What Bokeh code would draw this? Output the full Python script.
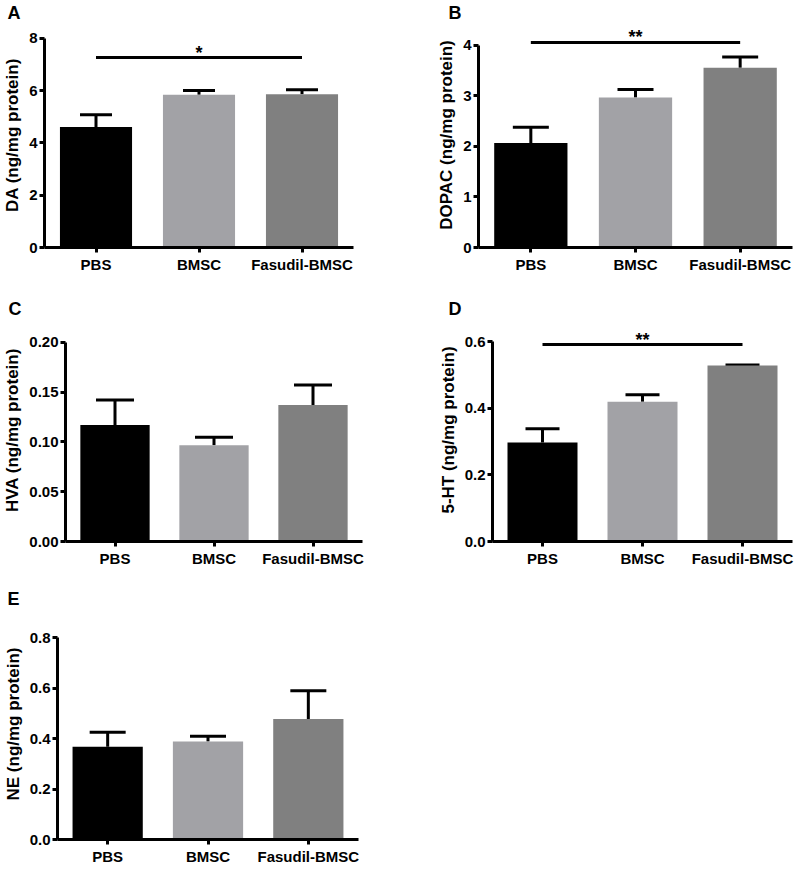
from bokeh.plotting import figure
from bokeh.models import (FactorRange, Range1d, Whisker, TeeHead, ColumnDataSource,
                          FixedTicker, NumeralTickFormatter)
from bokeh.core.properties import value
from bokeh.layouts import column, row
from bokeh.embed import file_html
from bokeh.resources import INLINE

# ---------------- data ----------------
categories = ["PBS", "BMSC", "Fasudil-BMSC"]
bar_colors = ["#000000", "#a2a2a6", "#808080"]

da_mean = [4.61, 5.85, 5.87]
da_sem = [0.47, 0.16, 0.17]
dopac_mean = [2.07, 2.97, 3.56]
dopac_sem = [0.31, 0.16, 0.21]
hva_mean = [0.117, 0.0965, 0.137]
hva_sem = [0.025, 0.008, 0.020]
ht_mean = [0.298, 0.420, 0.529]
ht_sem = [0.041, 0.021, 0.002]
ne_mean = [0.368, 0.388, 0.478]
ne_sem = [0.057, 0.021, 0.112]

da_ticks = [0, 2, 4, 6, 8]
dopac_ticks = [0, 1, 2, 3, 4]
hva_ticks = [0.0, 0.05, 0.10, 0.15, 0.20]
ht_ticks = [0.0, 0.2, 0.4, 0.6]
ne_ticks = [0.0, 0.2, 0.4, 0.6, 0.8]

# significance brackets: (height, label)
da_sig = (7.27, "*")
dopac_sig = (4.06, "**")
ht_sig = (0.592, "**")

FONT = "Liberation Sans"


def make_panel(letter, ylabel, means, sems, ticks, fmt, y_end, sig,
               width, height, mb_left, mb_right, mb_top, mb_bottom,
               title_offset, cap):
    p = figure(x_range=FactorRange(factors=categories, range_padding=0),
               y_range=Range1d(0, y_end),
               width=width, height=height, output_backend="svg",
               toolbar_location=None, tools="",
               min_border_left=mb_left, min_border_right=mb_right,
               min_border_top=mb_top, min_border_bottom=mb_bottom)
    src = ColumnDataSource(dict(cat=categories, mean=means,
                                top=[m + s for m, s in zip(means, sems)],
                                color=bar_colors))
    p.vbar(x="cat", top="mean", bottom=0, width=0.70, source=src,
           fill_color="color", line_color=None)
    w = Whisker(source=src, base="cat", lower="mean", upper="top",
                dimension="height", line_width=3, line_color="black",
                upper_head=TeeHead(size=cap, line_width=3, line_color="black"),
                lower_head=None)
    p.add_layout(w)
    if sig is not None:
        p.segment(x0=[categories[0]], x1=[categories[2]], y0=[sig[0]], y1=[sig[0]],
                  line_width=3, line_color="black")
        p.text(x=[categories[1]], y=[sig[0]], text=[sig[1]], text_align="center",
               text_baseline="alphabetic", y_offset=-5, text_font_size="18px",
               text_font=value(FONT), text_font_style="bold", text_color="black")

    p.title.text = letter
    p.title.align = "left"
    p.title.offset = title_offset
    p.title.standoff = 0
    p.title.text_font = FONT
    p.title.text_font_size = "18px"
    p.title.text_font_style = "bold"
    p.title.text_color = "black"

    p.xgrid.visible = False
    p.ygrid.visible = False
    p.outline_line_color = None
    p.background_fill_color = "white"
    p.border_fill_color = "white"

    for ax in (p.xaxis[0], p.yaxis[0]):
        ax.axis_line_width = 3
        ax.axis_line_color = "black"
        ax.major_tick_line_width = 3
        ax.major_tick_line_color = "black"
        ax.major_tick_out = 5
        ax.major_tick_in = 0
        ax.minor_tick_out = 0
        ax.minor_tick_in = 0
        ax.major_label_text_font = FONT
        ax.major_label_text_font_style = "bold"
        ax.major_label_text_font_size = "15px"
        ax.major_label_text_color = "black"
        ax.major_label_standoff = 2
    p.xaxis.major_label_standoff = 3
    p.yaxis.ticker = FixedTicker(ticks=ticks)
    p.yaxis.formatter = NumeralTickFormatter(format=fmt)
    p.yaxis.bounds = (ticks[0], ticks[-1])
    p.yaxis.axis_label = ylabel
    p.yaxis.axis_label_text_font = FONT
    p.yaxis.axis_label_text_font_style = "bold"
    p.yaxis.axis_label_text_font_size = "17px"
    p.yaxis.axis_label_text_color = "black"
    p.yaxis.axis_label_standoff = 4
    return p


pA = make_panel("A", "DA (ng/mg protein)", da_mean, da_sem, da_ticks, "0", 8.612, da_sig,
                400, 290, 37, 47, 22, 43, -37, 32)
pB = make_panel("B", "DOPAC (ng/mg protein)", dopac_mean, dopac_sem, dopac_ticks, "0", 4.455,
                dopac_sig, 399, 290, 78, 7, 22, 36, -30, 36)
pC = make_panel("C", "HVA (ng/mg protein)", hva_mean, hva_sem, hva_ticks, "0.00", 0.2238, None,
                400, 290, 51, 38, 28, 39, -57, 38)
pD = make_panel("D", "5-HT (ng/mg protein)", ht_mean, ht_sem, ht_ticks, "0.0", 0.6705, ht_sig,
                399, 290, 92, 7, 28, 37, -44, 34)
pE = make_panel("E", "NE (ng/mg protein)", ne_mean, ne_sem, ne_ticks, "0.0", 0.9155, None,
                400, 296, 44, 42, 28, 37, -50, 36)

layout = column(row(pA, pB, spacing=0), row(pC, pD, spacing=0), row(pE, spacing=0), spacing=0)

open("out.html", "w").write(file_html(layout, INLINE))
